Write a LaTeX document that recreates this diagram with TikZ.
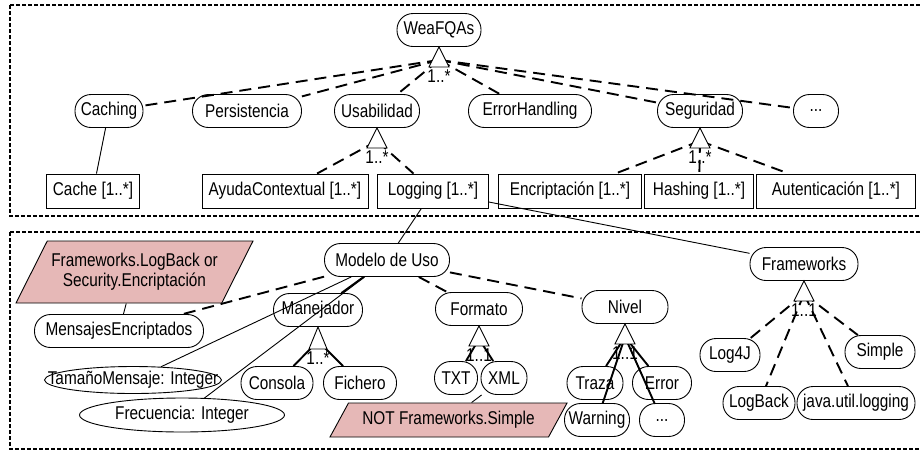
\documentclass[tikz,border=0pt]{standalone}
\usepackage{fontspec}
\setmainfont{Liberation Sans}[FakeStretch=0.83]
\usepackage{tikz}
\usetikzlibrary{shapes.geometric}
\definecolor{consfill}{RGB}{230,184,183}

\begin{document}
\begin{tikzpicture}[x=1pt, y=-1pt, line width=0.9pt,
		font=\fontsize{18.5}{20}\selectfont,
		feat/.style={draw, rectangle, rounded corners=16pt, minimum height=33pt, inner sep=0pt},
		card/.style={draw, rectangle, minimum height=34pt, inner sep=0pt},
		attr/.style={draw, ellipse, inner sep=0pt},
		cons/.style={draw, trapezium, trapezium stretches body, fill=consfill, inner sep=0pt, align=center},
		areabox/.style={line width=2.8pt, dash pattern=on 4pt off 2pt},
		opt/.style={line width=1.9pt, dash pattern=on 12pt off 7pt},
		mand/.style={line width=1.9pt},
		grp/.style={draw, fill=white, line width=0.9pt},
		lab/.style={inner sep=0pt, anchor=north}]
	\useasboundingbox (0,0) rectangle (920,451);
	
	% Areas
	\draw[areabox] (10,5) rectangle (926,216);
	\draw[areabox] (10,232) rectangle (926,449);
	
	% Nodes (top)
	\node[feat, minimum width=84pt] (w) at (439,30) {WeaFQAs};
	\node[feat, minimum width=68pt] (caching) at (109,111) {Caching};
	\node[feat, minimum width=109pt] (persist) at (247,111) {Persistencia};
	\node[feat, minimum width=85pt] (usab) at (377,111) {Usabilidad};
	\node[feat, minimum width=123pt] (errh) at (530,111) {ErrorHandling};
	\node[feat, minimum width=85pt] (segur) at (700,111) {Seguridad};
	\node[feat, minimum width=45pt] (more) at (816,111) {...};
	
	\node[card, minimum width=93pt] (cache) at (93,191) {Cache [1..*]};
	\node[card, minimum width=166pt] (ayuda) at (285,191) {AyudaContextual [1..*]};
	\node[card, minimum width=111pt] (logging) at (433,191) {Logging [1..*]};
	\node[card, minimum width=143pt] (encr) at (570,191) {Encriptación [1..*]};
	\node[card, minimum width=109pt] (hash) at (699,191) {Hashing [1..*]};
	\node[card, minimum width=159pt] (auten) at (836,191) {Autenticación [1..*]};
	
	% Nodes (bottom)
	\node[feat, minimum width=125pt] (modelo) at (387,260) {Modelo de Uso};
	\node[feat, minimum width=108pt] (frameworks) at (804,264) {Frameworks};
	\node[cons, trapezium left angle=50, trapezium right angle=130, minimum width=237pt, minimum height=62pt] (c1) at (134.5,272) {Frameworks.LogBack or\\Security.Encriptación};
	\node[feat, minimum width=169pt] (mensajes) at (119,331) {MensajesEncriptados};
	\node[feat, minimum width=89pt] (manejador) at (318,310) {Manejador};
	\node[feat, minimum width=87pt] (formato) at (479,309) {Formato};
	\node[feat, minimum width=86pt] (nivel) at (625,307) {Nivel};
	\node[attr, minimum width=177pt, minimum height=27pt] (tamano) at (133,380) {\makebox[0pt]{TamañoMensaje: Integer}};
	\node[attr, minimum width=205pt, minimum height=34pt] (frecuencia) at (182,415) {\makebox[0pt]{Frecuencia: Integer}};
	\node[feat, minimum width=72pt] (consola) at (277,383) {Consola};
	\node[feat, minimum width=73pt] (fichero) at (360,383) {Fichero};
	\node[feat, minimum width=43pt] (txt) at (456,378) {TXT};
	\node[feat, minimum width=46pt] (xml) at (504,378) {XML};
	\node[cons, trapezium left angle=43, trapezium right angle=137, minimum width=237pt, minimum height=34pt] (c2) at (448.5,420) {NOT Frameworks.Simple};
	\node[feat, minimum width=56pt] (traza) at (595,383) {Traza};
	\node[feat, minimum width=59pt] (error) at (662,383) {Error};
	\node[feat, minimum width=65pt] (warning) at (597,420) {Warning};
	\node[feat, minimum width=45pt] (dots) at (662,420) {...};
	\node[feat, minimum width=60pt] (log4j) at (730,355) {Log4J};
	\node[feat, minimum width=70pt] (simple) at (880,352) {Simple};
	\node[feat, minimum width=72pt] (logback) at (759,403) {LogBack};
	\node[feat, minimum width=118pt] (javaul) at (856,403) {java.util.logging};
	
	% Group centres
	\coordinate (gw) at ([yshift=-13pt]w.south);
	\coordinate (gu) at ([yshift=-13pt]usab.south);
	\coordinate (gs) at ([yshift=-13pt]segur.south);
	\coordinate (gm) at ([yshift=-14pt]manejador.south);
	\coordinate (gf) at ([yshift=-13pt]formato.south);
	\coordinate (gn) at ([yshift=-13pt]nivel.south);
	\coordinate (gfw) at ([yshift=-13pt]frameworks.south);
	
	% Edges
	\draw[opt] (gw) -- (caching);
	\draw[opt] (gw) -- (persist);
	\draw[opt] (gw) -- (usab);
	\draw[opt] (gw) -- (errh);
	\draw[opt] (gw) -- (segur);
	\draw[opt] (gw) -- (more);
	\draw[opt] (gu) -- (ayuda);
	\draw[opt] (gu) -- (logging);
	\draw[opt] (gs) -- (encr);
	\draw[opt] (gs) -- (hash);
	\draw[opt] (gs) -- (auten);
	\draw (caching) -- (cache);
	\draw (logging) -- (modelo);
	\draw (logging) -- (frameworks);
	
	\draw (c1) -- (mensajes);
	\draw[opt] (modelo) -- (mensajes);
	\draw[mand] (modelo) -- (manejador);
	\draw[opt] (modelo) -- (formato);
	\draw[opt] (modelo) -- (nivel);
	\draw (modelo) -- (tamano);
	\draw (modelo) -- (frecuencia);
	\draw (xml) -- (c2);
	\draw[mand] (gm) -- (consola);
	\draw[mand] (gm) -- (fichero);
	\draw[mand] (gf) -- (txt);
	\draw[mand] (gf) -- (xml);
	\draw[mand] (gn) -- (traza);
	\draw[mand] (gn) -- (error);
	\draw[mand] (gn) -- (warning);
	\draw[mand] (gn) -- (dots);
	\draw[opt] (gfw) -- (log4j);
	\draw[opt] (gfw) -- (logback);
	\draw[opt] (gfw) -- (javaul);
	\draw[opt] (gfw) -- (simple);
	
	% Group triangles
	\draw[grp] (w.south) -- ++(-10,20) -- ++(20,0) -- cycle;
	\draw[grp] (usab.south) -- ++(-10,20) -- ++(20,0) -- cycle;
	\draw[grp] (segur.south) -- ++(-10,20) -- ++(20,0) -- cycle;
	\draw[grp] (manejador.south) -- ++(-9,22) -- ++(18,0) -- cycle;
	\draw[grp] (formato.south) -- ++(-10,20) -- ++(20,0) -- cycle;
	\draw[grp] (nivel.south) -- ++(-10,20) -- ++(20,0) -- cycle;
	\draw[grp] (frameworks.south) -- ++(-10,20) -- ++(20,0) -- cycle;
	
	% Cardinalities
	\node[lab] (lw) at ([yshift=-22pt]w.south) {1..*};
	\node[lab] (lu) at ([yshift=-22pt]usab.south) {1..*};
	\node[lab] (ls) at ([yshift=-22pt]segur.south) {1..*};
	\node[lab] (lm) at ([yshift=-24pt]manejador.south) {1..*};
	\node[lab] (lf) at ([yshift=-22pt]formato.south) {1..1};
	\node[lab] (ln) at ([yshift=-22pt]nivel.south) {1..1};
	\node[lab] (lfw) at ([yshift=-22pt]frameworks.south) {1..1};
\end{tikzpicture}
\end{document}
